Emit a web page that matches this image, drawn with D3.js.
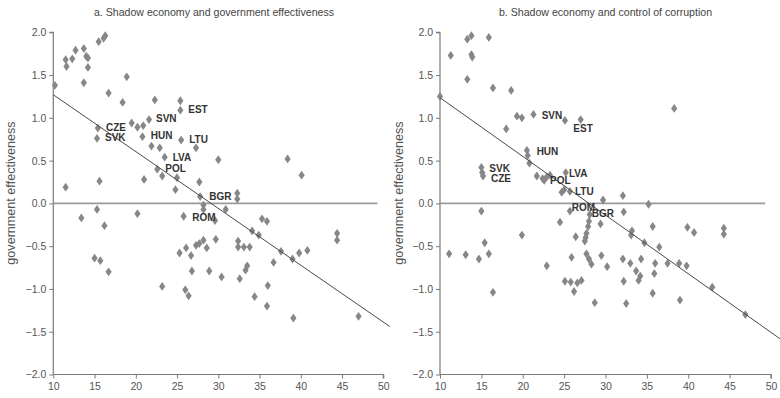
<!DOCTYPE html>
<html><head><meta charset="utf-8">
<script src="https://cdn.jsdelivr.net/npm/d3@7"></script>
<style>
html,body{margin:0;padding:0;background:#fff;}
svg{display:block;}
text{font-family:"Liberation Sans",Arial,sans-serif;}
</style></head>
<body><svg id="chart" width="780" height="398"></svg>
<script>
// ---- Data ----
const xTicks = [10,15,20,25,30,35,40,45,50];
const yTicks = [-2.0,-1.5,-1.0,-0.5,0.0,0.5,1.0,1.5,2.0];
const titles = ["a. Shadow economy and government effectiveness","b. Shadow economy and control of corruption"];
const yLabel = "government effectiveness";

// panel a: shadow economy (% GDP) vs government effectiveness
const shadowA = [10.2,11.5,11.5,11.6,12.3,12.7,13.7,13.7,14.0,14.2,14.2,15.5,16.1,16.3,15.6,16.7,15.4,15.3,18.4,18.9,19.5,20.2,20.9,21.6,20.8,21.9,22.9,21.0,22.3,23.5,22.6,23.2,25.0,24.8,25.4,25.4,25.5,27.3,27.7,30.0,38.4,40.1,27.8,28.2,32.3,32.3,13.4,15.3,20.2,16.2,15.0,15.7,16.7,23.2,25.8,28.2,29.6,30.9,25.3,26.1,26.7,26.8,26.0,26.4,27.3,27.7,28.2,28.6,29.7,28.9,30.4,32.4,32.4,33.1,33.8,33.5,33.3,32.6,34.1,34.9,35.3,35.9,34.4,36.0,35.9,36.7,37.6,39.0,39.1,39.8,40.8,44.4,44.4,47.0];
const govEffA = [1.38,0.19,1.68,1.60,1.69,1.79,1.81,1.41,1.72,1.70,1.59,1.89,1.93,1.96,0.26,1.29,0.88,0.76,1.18,1.48,0.94,0.89,0.91,0.98,0.78,0.67,0.65,0.28,1.21,0.54,0.40,0.32,0.30,0.16,1.20,1.09,0.74,0.65,0.25,0.51,0.52,0.33,0.08,-0.02,0.12,0.05,-0.17,-0.07,-0.12,-0.26,-0.64,-0.67,-0.80,-0.97,-0.15,-0.07,-0.20,-0.07,-0.58,-0.52,-0.61,-0.79,-1.01,-1.08,-0.49,-0.47,-0.43,-0.52,-0.42,-0.79,-0.86,-0.44,-0.51,-0.51,-0.51,-0.73,-0.78,-0.88,-0.32,-0.37,-0.18,-0.21,-1.09,-0.96,-1.20,-0.69,-0.56,-0.65,-1.34,-0.58,-0.55,-0.35,-0.43,-1.32];

// panel b: shadow economy vs control of corruption
const shadowB = [10.0,11.3,13.3,13.8,13.8,13.9,13.3,15.9,16.4,18.6,18.0,19.3,19.9,21.3,25.1,27.0,38.3,20.5,20.6,20.8,15.0,15.1,15.2,21.7,22.4,22.6,22.9,23.3,25.2,24.7,25.0,25.7,29.7,32.1,35.2,32.2,25.7,28.1,24.5,26.4,28.0,27.9,27.7,27.6,27.5,29.4,27.7,28.0,28.3,29.5,25.9,22.9,25.1,25.8,26.6,27.1,26.2,28.7,15.0,19.9,15.4,11.1,13.1,14.7,15.9,16.4,33.2,33.1,35.7,34.7,36.5,39.9,40.7,44.3,44.3,30.2,32.1,33.0,34.3,33.7,34.2,34.0,32.2,36.0,35.9,37.5,38.9,39.8,35.7,32.5,39.0,42.9,46.9];
const corrB = [1.25,1.73,1.92,1.96,1.74,1.71,1.45,1.94,1.35,1.32,0.87,1.02,1.00,1.04,0.97,0.98,1.11,0.62,0.56,0.47,0.42,0.36,0.32,0.32,0.29,0.27,0.31,0.33,0.36,0.13,0.16,0.14,0.04,0.09,-0.01,-0.10,-0.09,-0.13,-0.22,-0.39,-0.21,-0.27,-0.35,-0.40,-0.44,-0.24,-0.59,-0.65,-0.71,-0.61,-0.63,-0.73,-0.91,-0.92,-0.93,-0.90,-1.03,-1.16,-0.09,-0.37,-0.46,-0.59,-0.60,-0.65,-0.59,-1.04,-0.32,-0.37,-0.27,-0.46,-0.51,-0.28,-0.34,-0.29,-0.36,-0.74,-0.65,-0.70,-0.65,-0.79,-0.85,-0.90,-0.91,-0.70,-0.82,-0.70,-0.70,-0.73,-1.05,-1.17,-1.13,-0.98,-1.30];

// fitted lines (endpoints)
const fitA = [[10,1.27],[50.8,-1.44]];
const fitB = [[10,1.235],[51.2,-1.59]];

// country labels (label anchor in data units)
const labelsA = [
 {t:"EST",x:26.36,y:1.093},{t:"SVN",x:22.45,y:0.985},{t:"CZE",x:16.39,y:0.88},{t:"SVK",x:16.27,y:0.763},
 {t:"HUN",x:21.81,y:0.782},{t:"LTU",x:26.48,y:0.735},{t:"LVA",x:24.47,y:0.53},{t:"POL",x:23.58,y:0.40},
 {t:"BGR",x:28.91,y:0.075},{t:"ROM",x:26.85,y:-0.17}];
const labelsB = [
 {t:"SVN",x:22.29,y:1.015},{t:"EST",x:26.11,y:0.868},{t:"HUN",x:21.68,y:0.595},{t:"SVK",x:15.96,y:0.393},
 {t:"CZE",x:16.16,y:0.277},{t:"LVA",x:25.59,y:0.343},{t:"POL",x:23.29,y:0.257},{t:"LTU",x:26.31,y:0.133},
 {t:"ROM",x:25.92,y:-0.062},{t:"BGR",x:28.33,y:-0.132}];

// ---- Drawing ----
const svg = d3.select("#chart");
const y = d3.scaleLinear().domain([-2,2]).range([374.5,32.3]);
const panels = [
 {xs:d3.scaleLinear().domain([10,50]).range([53.3,383.3]), px:shadowA, py:govEffA, fit:fitA, labels:labelsA, title:titles[0], tx:214, lx:12},
 {xs:d3.scaleLinear().domain([10,50]).range([440,771]), px:shadowB, py:corrB, fit:fitB, labels:labelsB, title:titles[1], tx:605.5, lx:400}
];
const diamond = "M0,-4.4L3.1,0L0,4.4L-3.1,0Z";
const axisCol = "#7a7a7a", tickTxt = "#555";

panels.forEach((p,i)=>{
  const g = svg.append("g");
  const x = p.xs;
  // title
  g.append("text").attr("x",p.tx).attr("y",13).attr("text-anchor","middle")
   .attr("dominant-baseline","middle").attr("font-size","10.6px").attr("fill","#444").text(p.title);
  // y label
  g.append("text").attr("transform",`translate(${p.lx},193) rotate(-90)`).attr("text-anchor","middle")
   .attr("dominant-baseline","middle").attr("font-size","12.6px").attr("fill","#555").text(yLabel);
  // axes
  const ya = g.append("g").attr("transform",`translate(${x(10)},0)`)
   .call(d3.axisLeft(y).tickValues(yTicks).tickFormat(d=>d3.format(".1f")(d).replace("-","\u2212")).tickSize(4).tickPadding(3));
  const xa = g.append("g").attr("transform",`translate(0,${y(-2)})`)
   .call(d3.axisBottom(x).tickValues(xTicks).tickFormat(d3.format("d")).tickSize(4).tickPadding(4));
  [ya,xa].forEach(a=>{
    a.select(".domain").attr("stroke",axisCol).attr("stroke-width",1.2);
    a.selectAll(".tick line").attr("stroke",axisCol);
    a.selectAll(".tick text").attr("fill",tickTxt).attr("font-size","10.5px").attr("font-family","Liberation Sans, Arial, sans-serif");
  });
  ya.select(".domain").attr("d",`M-4,${y(2)}H0V${y(-2)}`);
  xa.select(".domain").attr("d",`M${x(10)},0H${x(50)}V4`);
  // zero line
  g.append("line").attr("x1",x(10)).attr("x2",x(49.3)).attr("y1",y(0)).attr("y2",y(0))
   .attr("stroke","#9a9a9a").attr("stroke-width",1.6);
  // points
  g.selectAll("path.pt").data(p.px.map((v,k)=>[v,p.py[k]])).enter().append("path").attr("class","pt")
   .attr("d",diamond).attr("transform",d=>`translate(${x(d[0])},${y(d[1])})`).attr("fill","#878787");
  // fit line
  g.append("line").attr("x1",x(p.fit[0][0])).attr("y1",y(p.fit[0][1])).attr("x2",x(p.fit[1][0])).attr("y2",y(p.fit[1][1]))
   .attr("stroke","#4a4a4a").attr("stroke-width",1);
  // labels
  g.selectAll("text.lab").data(p.labels).enter().append("text").attr("class","lab")
   .attr("x",d=>x(d.x)).attr("y",d=>y(d.y)).attr("dominant-baseline","middle")
   .attr("font-size","10px").attr("font-weight","bold").attr("fill","#333").text(d=>d.t);
});
</script></body></html>
